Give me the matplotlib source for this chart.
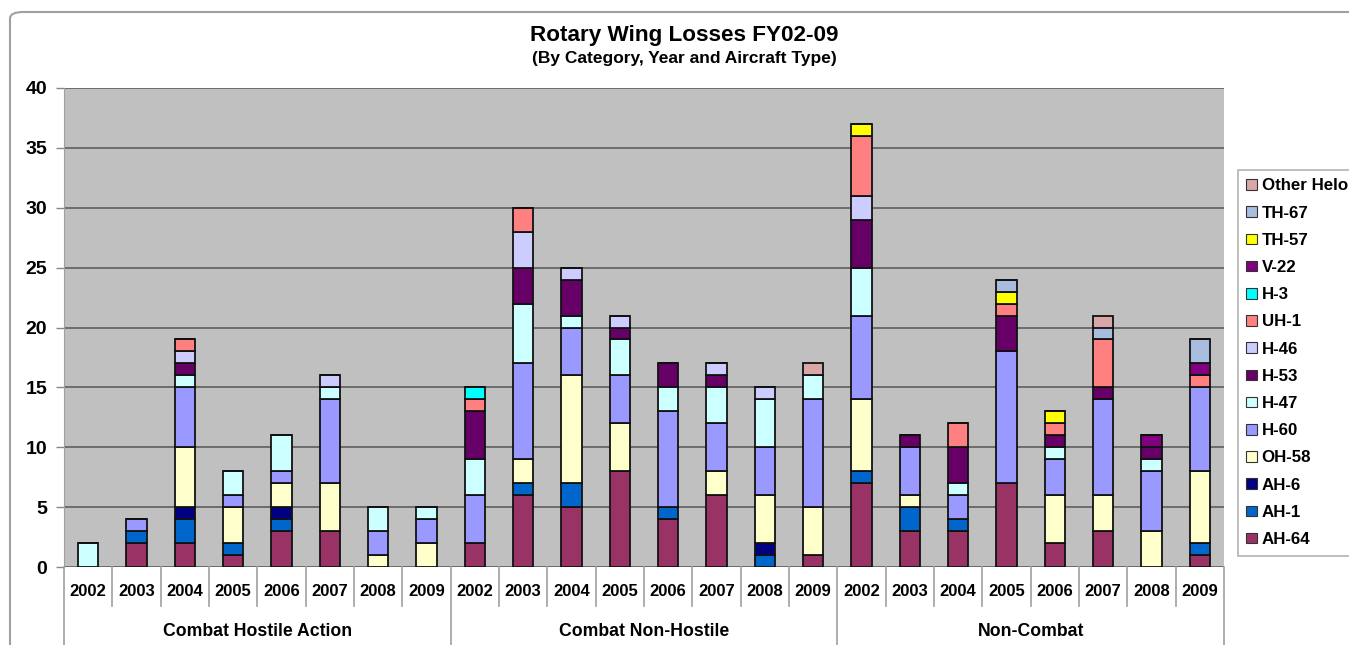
from __future__ import annotations

import matplotlib

matplotlib.use("Agg")
import matplotlib.pyplot as plt
import numpy as np
from matplotlib.patches import FancyBboxPatch, Patch
from matplotlib.transforms import blended_transform_factory

plt.rcParams["font.family"] = ["Liberation Sans", "DejaVu Sans"]
plt.rcParams["font.weight"] = "bold"

CATEGORIES = ["Combat Hostile Action", "Combat Non-Hostile", "Non-Combat"]
YEARS = ["2002", "2003", "2004", "2005", "2006", "2007", "2008", "2009"]

# losses per year, one block of 8 years per category
AH_64 = [0, 2, 2, 1, 3, 3, 0, 0,  2, 6, 5, 8, 4, 6, 0, 1,  7, 3, 3, 7, 2, 3, 0, 1]
AH_1 = [0, 1, 2, 1, 1, 0, 0, 0,  0, 1, 2, 0, 1, 0, 1, 0,  1, 2, 1, 0, 0, 0, 0, 1]
AH_6 = [0, 0, 1, 0, 1, 0, 0, 0,  0, 0, 0, 0, 0, 0, 1, 0,  0, 0, 0, 0, 0, 0, 0, 0]
OH_58 = [0, 0, 5, 3, 2, 4, 1, 2,  0, 2, 9, 4, 0, 2, 4, 4,  6, 1, 0, 0, 4, 3, 3, 6]
H_60 = [0, 1, 5, 1, 1, 7, 2, 2,  4, 8, 4, 4, 8, 4, 4, 9,  7, 4, 2, 11, 3, 8, 5, 7]
H_47 = [2, 0, 1, 2, 3, 1, 2, 1,  3, 5, 1, 3, 2, 3, 4, 2,  4, 0, 1, 0, 1, 0, 1, 0]
H_53 = [0, 0, 1, 0, 0, 0, 0, 0,  4, 3, 3, 1, 2, 1, 0, 0,  4, 1, 3, 3, 1, 1, 1, 0]
H_46 = [0, 0, 1, 0, 0, 1, 0, 0,  0, 3, 1, 1, 0, 1, 1, 0,  2, 0, 0, 0, 0, 0, 0, 0]
UH_1 = [0, 0, 1, 0, 0, 0, 0, 0,  1, 2, 0, 0, 0, 0, 0, 0,  5, 0, 2, 1, 1, 4, 0, 1]
H_3 = [0, 0, 0, 0, 0, 0, 0, 0,  1, 0, 0, 0, 0, 0, 0, 0,  0, 0, 0, 0, 0, 0, 0, 0]
V_22 = [0, 0, 0, 0, 0, 0, 0, 0,  0, 0, 0, 0, 0, 0, 0, 0,  0, 0, 0, 0, 0, 0, 1, 1]
TH_57 = [0, 0, 0, 0, 0, 0, 0, 0,  0, 0, 0, 0, 0, 0, 0, 0,  1, 0, 0, 1, 1, 0, 0, 0]
TH_67 = [0, 0, 0, 0, 0, 0, 0, 0,  0, 0, 0, 0, 0, 0, 0, 0,  0, 0, 0, 1, 0, 1, 0, 2]
OTHER_HELO = [0, 0, 0, 0, 0, 0, 0, 0,  0, 0, 0, 0, 0, 0, 0, 1,  0, 0, 0, 0, 0, 1, 0, 0]

SERIES = [
    ("AH-64", AH_64, "#993366"),
    ("AH-1", AH_1, "#0066CC"),
    ("AH-6", AH_6, "#000080"),
    ("OH-58", OH_58, "#FFFFCC"),
    ("H-60", H_60, "#9999FF"),
    ("H-47", H_47, "#CCFFFF"),
    ("H-53", H_53, "#660066"),
    ("H-46", H_46, "#CCCCFF"),
    ("UH-1", UH_1, "#FF8080"),
    ("H-3", H_3, "#00FFFF"),
    ("V-22", V_22, "#800080"),
    ("TH-57", TH_57, "#FFFF00"),
    ("TH-67", TH_67, "#A8BCDD"),
    ("Other Helo", OTHER_HELO, "#D9A7A7"),
]

W, H = 1349, 645
PLOT_L, PLOT_R, PLOT_T, PLOT_B = 64, 1224, 88, 567


def px_y(py: float) -> float:
    """Pixel row below the plot bottom -> axes fraction."""
    return -(py - PLOT_B) / (PLOT_B - PLOT_T)


def draw_category_axis(ax, n_years: int, n_groups: int) -> None:
    trans = blended_transform_factory(ax.transData, ax.transAxes)
    n = n_years * n_groups
    line_kw = dict(color="#a0a0a0", lw=1.2, transform=trans, clip_on=False)
    for i in range(n + 1):
        x = i - 0.5
        bottom = px_y(650) if i % n_years == 0 else px_y(606)
        ax.plot([x, x], [0, bottom], **line_kw)
    for i in range(n):
        ax.text(i, px_y(591), YEARS[i % n_years], transform=trans,
                ha="center", va="center", fontsize=12, fontweight="bold")
    for g, name in enumerate(CATEGORIES):
        xc = g * n_years + (n_years - 1) / 2
        ax.text(xc, px_y(632), name, transform=trans, ha="center",
                va="center", fontsize=12.7, fontweight="bold")


def plot_losses():
    fig = plt.figure(figsize=(W / 100, H / 100), dpi=100)
    ax = fig.add_axes([PLOT_L / W, 1 - PLOT_B / H,
                       (PLOT_R - PLOT_L) / W, (PLOT_B - PLOT_T) / H])
    ax.set_facecolor("#C0C0C0")

    # outer chart frame
    fig.patches.append(FancyBboxPatch(
        (10 / W, -0.05), 1.2, 1 - 12 / H + 0.05,
        boxstyle="round,pad=0,rounding_size=0.01", transform=fig.transFigure,
        fc="none", ec="#a0a0a0", lw=1.5, zorder=0))

    x = np.arange(len(AH_64))
    bottom = np.zeros(len(x))
    for name, values, color in SERIES:
        vals = np.array(values, dtype=float)
        ax.bar(x, vals, width=0.42, bottom=bottom, color=color,
               edgecolor="#111111", linewidth=1.3, zorder=3)
        bottom += vals

    ax.set_xlim(-0.5, len(x) - 0.5)
    ax.set_ylim(0, 40)
    ax.set_yticks(range(0, 41, 5))
    ax.yaxis.grid(True, color="#555555", lw=1.1, zorder=1)
    ax.set_axisbelow(True)
    ax.set_xticks([])
    ax.tick_params(axis="y", length=6, width=1, color="#888888",
                   labelsize=14, pad=6)
    for lbl in ax.get_yticklabels():
        lbl.set_fontweight("bold")
    for side in ("top", "right", "bottom"):
        ax.spines[side].set_visible(False)
    ax.spines["left"].set_color("#a0a0a0")

    draw_category_axis(ax, len(YEARS), len(CATEGORIES))

    fig.text(684 / W, 1 - 35 / H, "Rotary Wing Losses FY02-09",
             ha="center", va="center", fontsize=16.2, fontweight="bold")
    fig.text(684 / W, 1 - 58 / H, "(By Category, Year and Aircraft Type)",
             ha="center", va="center", fontsize=12.5, fontweight="bold")

    handles = [Patch(facecolor=c, edgecolor="#333333", lw=0.8, label=n)
               for n, _, c in reversed(SERIES)]
    leg = fig.legend(handles=handles, loc="upper left",
                     bbox_to_anchor=(1238 / W, 1 - 170 / H),
                     frameon=True, fancybox=False, fontsize=12.2,
                     handlelength=0.6, handleheight=0.6, handletextpad=0.3,
                     labelspacing=0.72, borderpad=0.5, borderaxespad=0)
    leg.get_frame().set_edgecolor("#a0a0a0")
    leg.get_frame().set_linewidth(1.2)
    for t in leg.get_texts():
        t.set_fontweight("bold")
    return fig, ax


def main() -> None:
    fig, _ = plot_losses()
    fig.savefig("out.png", dpi=100)


if __name__ == "__main__":
    main()
